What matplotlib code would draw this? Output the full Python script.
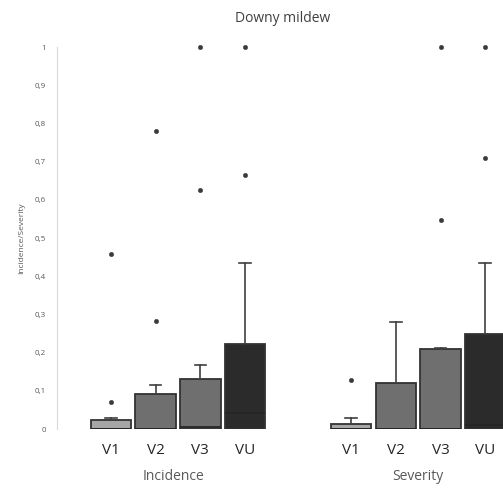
import matplotlib
matplotlib.use("Agg")
import matplotlib.pyplot as plt

plt.rcParams["font.family"] = ["Open Sans", "DejaVu Sans"]

varieties = ["V1", "V2", "V3", "VU"]
groups = ["Incidence", "Severity"]

# box stats (Excel style box plot)
inc_q1 = [0.0, 0.0, 0.0, 0.0]
inc_med = [0.0, 0.0, 0.006, 0.041]
inc_q3 = [0.024, 0.092, 0.131, 0.222]
inc_whishi = [0.030, 0.115, 0.168, 0.436]
inc_fliers = [[0.072, 0.458], [0.283, 0.782], [0.625, 1.0], [0.666, 1.0]]

sev_q1 = [0.0, 0.0, 0.0, 0.0]
sev_med = [0.0, 0.0, 0.0, 0.010]
sev_q3 = [0.014, 0.121, 0.210, 0.250]
sev_whishi = [0.029, 0.281, 0.212, 0.436]
sev_fliers = [[0.128], [], [0.547, 1.0], [0.710, 1.0]]

yticks = [0, 0.1, 0.2, 0.3, 0.4, 0.5, 0.6, 0.7, 0.8, 0.9, 1.0]
ytick_labels = ["0", "0,1", "0,2", "0,3", "0,4", "0,5", "0,6", "0,7", "0,8", "0,9", "1"]

fills = ["#a6a6a6", "#6f6f6f", "#6f6f6f", "#2b2b2b"]
TEXT = "#595959"

fig = plt.figure(figsize=(5.03, 4.88), dpi=100)
ax = fig.add_axes([57 / 503, 59 / 488, 446 / 503, 381.7 / 488])


def make_stats(q1, med, q3, hi, fl):
    out = []
    for i in range(len(q1)):
        out.append({"q1": q1[i], "med": med[i], "q3": q3[i],
                    "whislo": q1[i], "whishi": hi[i], "fliers": fl[i]})
    return out


inc_pos = [0, 1, 2, 3]
sev_pos = [5.36, 6.36, 7.36, 8.36]

for stats, pos in [(make_stats(inc_q1, inc_med, inc_q3, inc_whishi, inc_fliers), inc_pos),
                   (make_stats(sev_q1, sev_med, sev_q3, sev_whishi, sev_fliers), sev_pos)]:
    bp = ax.bxp(stats, positions=pos, widths=0.9, patch_artist=True,
                showfliers=True, capwidths=0.26,
                boxprops=dict(edgecolor="#333333", linewidth=1.3),
                medianprops=dict(color="#262626", linewidth=1.3),
                whiskerprops=dict(color="#404040", linewidth=1.2),
                capprops=dict(color="#404040", linewidth=1.2),
                flierprops=dict(marker="o", markersize=3.2, markerfacecolor="#3a3a3a",
                                markeredgecolor="#3a3a3a", markeredgewidth=0.3,
                                linestyle="none"))
    for patch, c in zip(bp["boxes"], fills):
        patch.set_facecolor(c)
    # no lower whiskers in the original
    for w in bp["whiskers"][::2]:
        w.set_visible(False)
    for c in bp["caps"][::2]:
        c.set_visible(False)
    for f in bp["fliers"]:
        f.set_clip_on(False)

ax.set_xlim(-1.2, 8.755)
ax.set_ylim(0, 1)
ax.set_yticks(yticks)
ax.set_yticklabels(ytick_labels, fontsize=5.8, color=TEXT)
ax.tick_params(axis="y", length=0, pad=8)
ax.tick_params(axis="x", length=0, pad=10)
ax.set_xticks(inc_pos + sev_pos)
ax.set_xticklabels(varieties + varieties, fontsize=11, color="#262626")

for s in ["top", "right", "bottom"]:
    ax.spines[s].set_visible(False)
ax.spines["left"].set_color("#d9d9d9")

ax.set_ylabel("Incidence/Severity", fontsize=6, color=TEXT, labelpad=7)

fig.text(173 / 503, 1 - 477 / 488, groups[0], ha="center", va="center", fontsize=10, color=TEXT)
fig.text(418 / 503, 1 - 477 / 488, groups[1], ha="center", va="center", fontsize=10, color=TEXT)
fig.text(283 / 503, 1 - 18 / 488, "Downy mildew", ha="center", va="center", fontsize=10, color="#404040")

fig.savefig("out.png", dpi=100)
